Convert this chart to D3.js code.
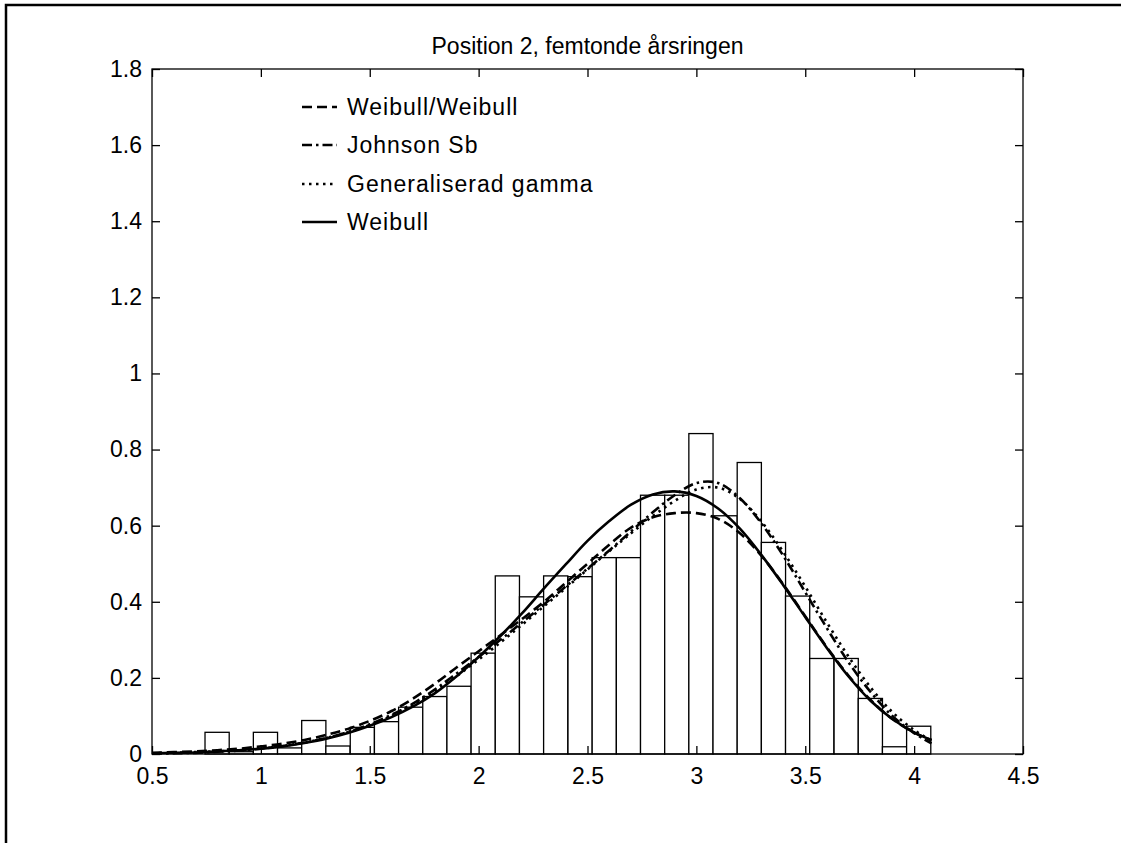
<!DOCTYPE html>
<html>
<head>
<meta charset="utf-8">
<script src="https://cdn.jsdelivr.net/npm/d3@7"></script>
<style>
  html, body { margin: 0; padding: 0; background: #fff; }
  svg { display: block; }
  text { font-family: "Liberation Sans", Arial, Helvetica, sans-serif; fill: #000; }
</style>
</head>
<body>
<svg id="chart" width="1121" height="843"></svg>
<script>
// Histogram of ring widths (normalised density), 30 bins
const binCenters = [0.799, 0.910, 1.021, 1.132, 1.243, 1.354, 1.466, 1.577, 1.688, 1.799,
                    1.910, 2.021, 2.132, 2.243, 2.354, 2.466, 2.577, 2.688, 2.799, 2.910,
                    3.021, 3.132, 3.243, 3.354, 3.465, 3.576, 3.688, 3.799, 3.910, 4.021];
const binWidth = 0.1111;
const density = [0.057, 0.006, 0.057, 0.016, 0.088, 0.021, 0.070, 0.085, 0.123, 0.151,
                 0.178, 0.265, 0.468, 0.413, 0.468, 0.466, 0.516, 0.516, 0.680, 0.680,
                 0.842, 0.626, 0.766, 0.556, 0.415, 0.251, 0.251, 0.146, 0.019, 0.073];

// Fitted density curves, sampled on a common x grid
const xGrid = [0.5, 0.6, 0.7, 0.8, 0.9, 1.0, 1.1, 1.2, 1.3, 1.4, 1.5, 1.6, 1.7, 1.8, 1.9,
               2.0, 2.1, 2.2, 2.3, 2.4, 2.5, 2.6, 2.7, 2.8, 2.9, 3.0, 3.1, 3.2, 3.3, 3.4,
               3.5, 3.6, 3.7, 3.8, 3.9, 4.0, 4.08];
const weibullWeibull = [0.003, 0.005, 0.007, 0.010, 0.014, 0.020, 0.027, 0.037, 0.050, 0.066,
                        0.087, 0.113, 0.146, 0.185, 0.228, 0.270, 0.312, 0.355, 0.400, 0.450,
                        0.500, 0.550, 0.595, 0.622, 0.633, 0.633, 0.618, 0.580, 0.520, 0.445,
                        0.362, 0.280, 0.205, 0.142, 0.092, 0.056, 0.036];
const johnsonSb = [0.001, 0.002, 0.003, 0.006, 0.009, 0.014, 0.021, 0.030, 0.042, 0.058,
                   0.078, 0.103, 0.133, 0.170, 0.212, 0.255, 0.300, 0.346, 0.393, 0.440,
                   0.487, 0.535, 0.585, 0.635, 0.680, 0.712, 0.712, 0.672, 0.605, 0.520,
                   0.425, 0.330, 0.240, 0.163, 0.100, 0.055, 0.028];
const genGamma = [0.002, 0.003, 0.005, 0.007, 0.010, 0.015, 0.021, 0.030, 0.042, 0.057,
                  0.076, 0.100, 0.130, 0.165, 0.205, 0.248, 0.293, 0.340, 0.388, 0.436,
                  0.485, 0.533, 0.580, 0.625, 0.665, 0.695, 0.700, 0.670, 0.610, 0.530,
                  0.440, 0.345, 0.255, 0.175, 0.110, 0.063, 0.035];
const weibull = [0.002, 0.003, 0.004, 0.007, 0.010, 0.014, 0.020, 0.029, 0.040, 0.055,
                 0.074, 0.097, 0.125, 0.160, 0.205, 0.255, 0.310, 0.370, 0.435, 0.498,
                 0.560, 0.612, 0.655, 0.682, 0.690, 0.678, 0.645, 0.592, 0.522, 0.443,
                 0.360, 0.278, 0.203, 0.140, 0.092, 0.057, 0.037];

const seriesNames = ["Weibull/Weibull", "Johnson Sb", "Generaliserad gamma", "Weibull"];
const seriesDash = ["10,5", "10,4,2.5,4", "2.5,4.5", null];

const xTicks = [0.5, 1, 1.5, 2, 2.5, 3, 3.5, 4, 4.5];
const yTicks = [0, 0.2, 0.4, 0.6, 0.8, 1, 1.2, 1.4, 1.6, 1.8];
const title = "Position 2, femtonde årsringen";

const svg = d3.select("#chart");
const W = 1121, H = 843;
const m = { left: 152, top: 69, right: 1023, bottom: 754 };

const x = d3.scaleLinear().domain([0.5, 4.5]).range([m.left, m.right]);
const y = d3.scaleLinear().domain([0, 1.8]).range([m.bottom, m.top]);

// Figure frame
svg.append("path")
  .attr("d", `M6,${H + 10} L6,5 L${W + 10},5`)
  .attr("fill", "none").attr("stroke", "#000").attr("stroke-width", 2.5);

// Histogram bars
svg.append("g").selectAll("rect")
  .data(binCenters.map((c, i) => ({ c, v: density[i] })))
  .join("rect")
  .attr("x", d => x(d.c - binWidth / 2))
  .attr("width", d => x(d.c + binWidth / 2) - x(d.c - binWidth / 2))
  .attr("y", d => y(d.v))
  .attr("height", d => y(0) - y(d.v))
  .attr("fill", "#fff")
  .attr("stroke", "#000")
  .attr("stroke-width", 1.3);

// Density curves
const allSeries = [weibullWeibull, johnsonSb, genGamma, weibull];
const line = d3.line().x(d => x(d[0])).y(d => y(d[1])).curve(d3.curveCatmullRom.alpha(0.5));
allSeries.forEach((vals, i) => {
  svg.append("path")
    .datum(xGrid.map((xv, j) => [xv, vals[j]]))
    .attr("d", line)
    .attr("fill", "none")
    .attr("stroke", "#000")
    .attr("stroke-width", 2.6)
    .attr("stroke-dasharray", seriesDash[i]);
});

// Axes box with inward ticks on all four sides
const tickLen = 8;
const axisG = svg.append("g");
axisG.append("rect")
  .attr("x", m.left).attr("y", m.top)
  .attr("width", m.right - m.left).attr("height", m.bottom - m.top)
  .attr("fill", "none").attr("stroke", "#000").attr("stroke-width", 1.3);

const xAxisB = d3.axisBottom(x).tickValues(xTicks).tickSize(-tickLen).tickPadding(14)
  .tickFormat(d3.format("~g"));
const xAxisT = d3.axisTop(x).tickValues(xTicks).tickSize(-tickLen).tickFormat("");
const yAxisL = d3.axisLeft(y).tickValues(yTicks).tickSize(-tickLen).tickPadding(10)
  .tickFormat(d3.format("~g"));
const yAxisR = d3.axisRight(y).tickValues(yTicks).tickSize(-tickLen).tickFormat("");

function styleAxis(g) {
  g.select(".domain").remove();
  g.selectAll(".tick line").attr("stroke", "#000").attr("stroke-width", 1.3);
  g.selectAll(".tick text").attr("font-size", 23).attr("fill", "#000")
    .style("font-family", '"Liberation Sans", Arial, sans-serif');
}
axisG.append("g").attr("transform", `translate(0,${m.bottom})`).call(xAxisB).call(styleAxis);
axisG.append("g").attr("transform", `translate(0,${m.top})`).call(xAxisT).call(styleAxis);
axisG.append("g").attr("transform", `translate(${m.left},0)`).call(yAxisL).call(styleAxis);
axisG.append("g").attr("transform", `translate(${m.right},0)`).call(yAxisR).call(styleAxis);

// Title
svg.append("text")
  .attr("x", (m.left + m.right) / 2).attr("y", 54)
  .attr("text-anchor", "middle").attr("font-size", 23)
  .text(title);

// Legend
const legend = svg.append("g");
const legRows = [107, 145, 184, 222];
seriesNames.forEach((name, i) => {
  legend.append("line")
    .attr("x1", 302).attr("x2", 337)
    .attr("y1", legRows[i]).attr("y2", legRows[i])
    .attr("stroke", "#000").attr("stroke-width", 2.6)
    .attr("stroke-dasharray", seriesDash[i]);
  legend.append("text")
    .attr("x", 347).attr("y", legRows[i]).attr("dy", "0.35em")
    .attr("font-size", 23)
    .attr("letter-spacing", 1)
    .text(name);
});
</script>
</body>
</html>
